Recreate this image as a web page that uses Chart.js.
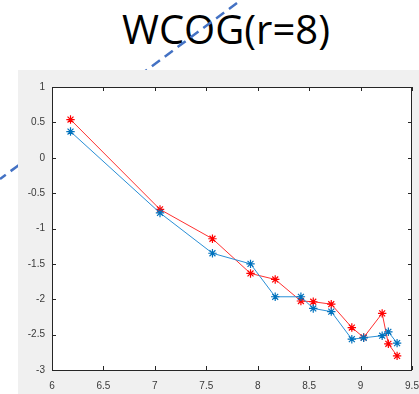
<!DOCTYPE html>
<html>
<head>
<meta charset="utf-8">
<script src="https://cdn.jsdelivr.net/npm/chart.js@4/dist/chart.umd.min.js"></script>
<style>
  html, body { margin: 0; padding: 0; background: #ffffff; }
  #wrap { position: relative; width: 419px; height: 394px; overflow: hidden; }
  #title { position: absolute; left: 0; top: 4px; width: 452px; text-align: center;
           font-family: "Open Sans", "Liberation Sans", sans-serif; font-size: 40px; line-height: 50px;
           color: #000; z-index: 0; }
  canvas { position: absolute; left: 0; top: 0; z-index: 1; }
</style>
</head>
<body>
<div id="wrap">
  <div id="title">WCOG(r=8)</div>
  <canvas id="c" width="419" height="394"></canvas>
</div>
<script>
const xValues = [6.18, 7.05, 7.56, 7.93, 8.17, 8.42, 8.54, 8.715, 8.915, 9.03, 9.21, 9.27, 9.355];
const blueValues = [0.37, -0.78, -1.35, -1.50, -1.965, -1.965, -2.13, -2.175, -2.565, -2.545, -2.515, -2.46, -2.62];
const redValues = [0.54, -0.73, -1.145, -1.635, -1.72, -2.025, -2.035, -2.07, -2.40, -2.54, -2.20, -2.63, -2.80];
const xTicks = [6, 6.5, 7, 7.5, 8, 8.5, 9, 9.5];
const yTicks = [-3, -2.5, -2, -1.5, -1, -0.5, 0, 0.5, 1];

const toPts = (ys) => xValues.map((x, i) => ({ x: x, y: ys[i] }));

const decor = {
  id: 'decor',
  beforeDraw(chart) {
    const ctx = chart.ctx;
    ctx.save();
    ctx.fillStyle = '#f0f0f0';
    ctx.fillRect(18, 70, chart.width - 18, chart.height - 70);
    const a = chart.chartArea;
    ctx.fillStyle = '#ffffff';
    ctx.fillRect(a.left, a.top, a.right - a.left, a.bottom - a.top);
    ctx.restore();
  },
  afterDatasetsDraw(chart) {
    const ctx = chart.ctx;
    const a = chart.chartArea;
    const xs = chart.scales.x, ys = chart.scales.y;
    ctx.save();
    ctx.strokeStyle = '#262626';
    ctx.lineWidth = 1;
    ctx.beginPath();
    ctx.rect(Math.round(a.left) + 0.5, Math.round(a.top) + 0.5, Math.round(a.right - a.left) - 1, Math.round(a.bottom - a.top));
    ctx.stroke();
    const L = 4;
    ctx.beginPath();
    xTicks.forEach(v => {
      const px = Math.round(xs.getPixelForValue(v)) + 0.5;
      ctx.moveTo(px, a.bottom); ctx.lineTo(px, a.bottom - L);
      ctx.moveTo(px, a.top); ctx.lineTo(px, a.top + L);
    });
    yTicks.forEach(v => {
      const py = Math.round(ys.getPixelForValue(v)) + 0.5;
      ctx.moveTo(a.left, py); ctx.lineTo(a.left + L, py);
      ctx.moveTo(a.right, py); ctx.lineTo(a.right - L, py);
    });
    ctx.stroke();
    ctx.restore();
  },
  afterDraw(chart) {
    const ctx = chart.ctx;
    ctx.save();
    ctx.beginPath();
    ctx.rect(0, 0, chart.width, 70);
    ctx.rect(0, 70, 18, chart.height - 70);
    ctx.clip();
    ctx.strokeStyle = '#4472C4';
    ctx.lineWidth = 2.5;
    ctx.setLineDash([10, 6]);
    ctx.beginPath();
    ctx.moveTo(237, 3);
    ctx.lineTo(0, 179);
    ctx.stroke();
    ctx.restore();
  }
};

new Chart(document.getElementById('c'), {
  type: 'scatter',
  data: {
    datasets: [
      { label: 'blue', data: toPts(blueValues), showLine: true, borderColor: '#2a8fd6', backgroundColor: '#2a8fd6',
        borderWidth: 1, pointStyle: 'star', pointRadius: 4.2, pointBorderWidth: 1.2, pointBorderColor: '#0072BD', pointHoverRadius: 4.2 },
      { label: 'red', data: toPts(redValues), showLine: true, borderColor: '#ff3030', backgroundColor: '#ff0000',
        borderWidth: 1, pointStyle: 'star', pointRadius: 4.2, pointBorderWidth: 1.2, pointBorderColor: '#ff0000', pointHoverRadius: 4.2 }
    ]
  },
  options: {
    responsive: false,
    animation: false,
    events: [],
    layout: { padding: { left: 0, right: 7, top: 87, bottom: 0 } },
    plugins: { legend: { display: false }, tooltip: { enabled: false }, title: { display: false } },
    scales: {
      x: {
        type: 'linear', min: 6, max: 9.5,
        afterBuildTicks: (s) => { s.ticks = xTicks.map(v => ({ value: v })); },
        afterFit: (s) => { s.height = 24; s.paddingLeft = 0; s.paddingRight = 0; },
        grid: { display: false, drawTicks: false },
        border: { display: false },
        ticks: { padding: 10, color: '#3a3a3a', font: { family: 'Liberation Sans', size: 10 }, maxRotation: 0, autoSkip: false,
                 callback: (v) => String(v) }
      },
      y: {
        type: 'linear', min: -3, max: 1,
        afterBuildTicks: (s) => { s.ticks = yTicks.map(v => ({ value: v })); },
        afterFit: (s) => { s.width = 52; s.paddingTop = 0; s.paddingBottom = 0; },
        grid: { display: false, drawTicks: false },
        border: { display: false },
        ticks: { padding: 7, color: '#3a3a3a', font: { family: 'Liberation Sans', size: 10 }, autoSkip: false,
                 callback: (v) => String(v) }
      }
    }
  },
  plugins: [decor]
});
</script>
</body>
</html>
